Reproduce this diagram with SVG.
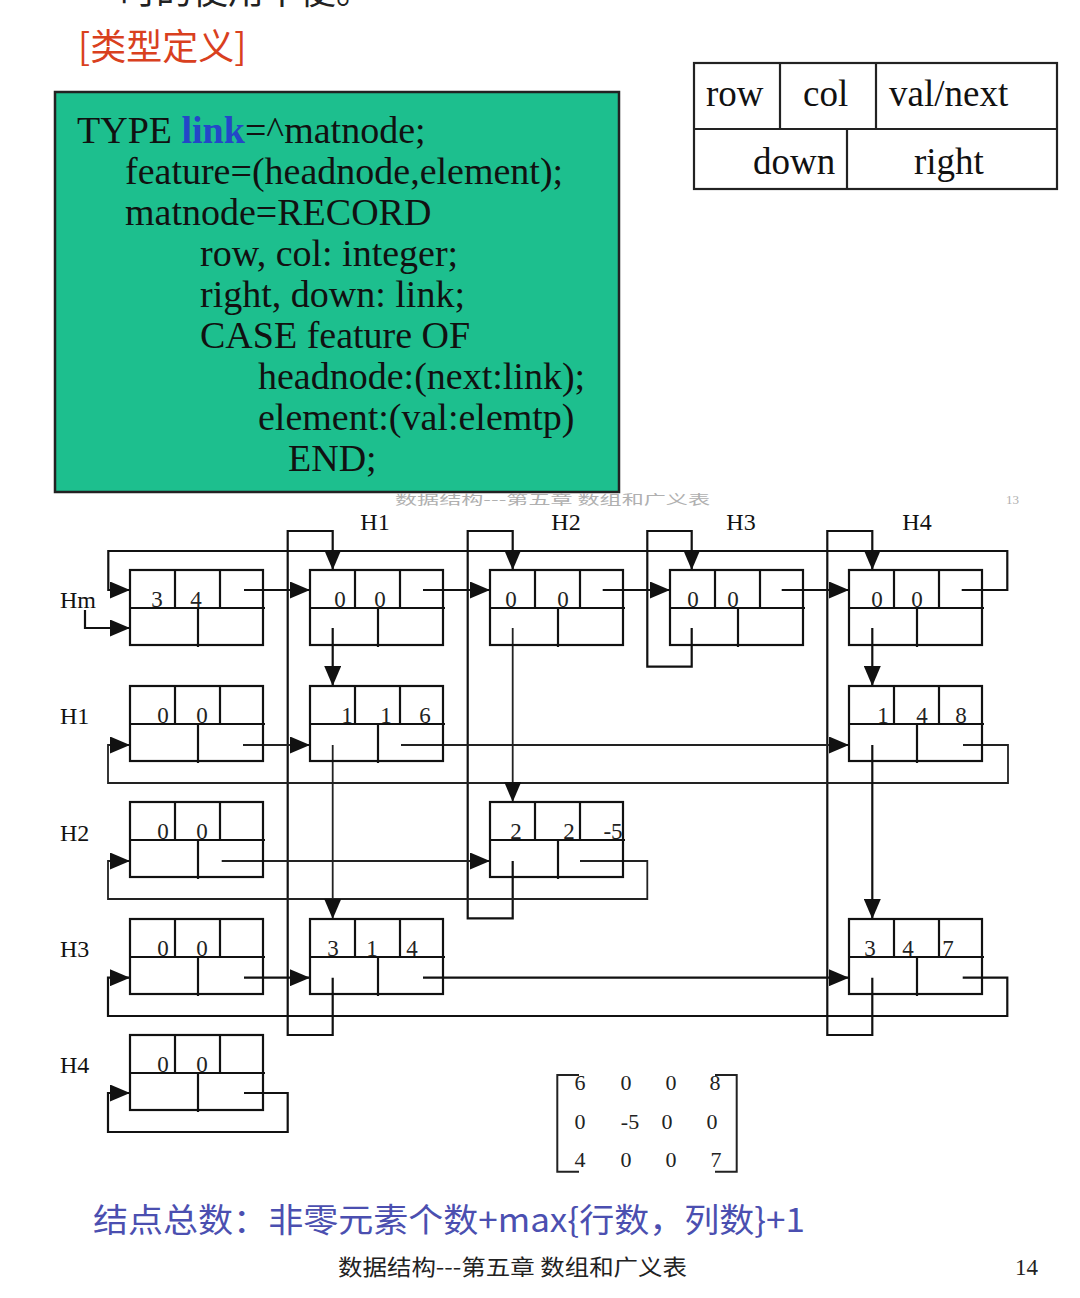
<svg xmlns="http://www.w3.org/2000/svg" xmlns:xlink="http://www.w3.org/1999/xlink" width="1080" height="1298" viewBox="0 0 1080 1298">
<style>
.bg{fill:#ffffff}
.serif{font-family:"Liberation Serif","Times New Roman",serif}
.cjk{font-family:"Noto Sans CJK SC","Noto Sans",sans-serif}
.code{font-family:"Liberation Serif","Times New Roman",serif;font-size:38px;fill:#111}
.tbl{font-family:"Liberation Serif","Times New Roman",serif;font-size:37px;fill:#111}
.lab{font-family:"Liberation Serif","Times New Roman",serif;font-size:24px;fill:#111}
.dig{font-family:"Liberation Serif","Times New Roman",serif;font-size:23px;fill:#222;text-anchor:middle}
.mx{font-family:"Liberation Serif","Times New Roman",serif;font-size:22px;fill:#222;text-anchor:middle}
.ns{fill:none;stroke:#111;stroke-width:2.2}
.ln{fill:none;stroke:#111;stroke-width:2.2}
.lt{fill:none;stroke:#222;stroke-width:1.8}
</style>
<defs>
<marker id="ah" markerUnits="userSpaceOnUse" markerWidth="20" markerHeight="17" refX="20" refY="8.5" orient="auto" viewBox="0 0 20 17">
<path d="M0,0 L20,8.5 L0,17 Z" fill="#111"/>
</marker>
<g id="nd">
<rect x="0" y="0" width="133" height="75"/>
<line x1="0" y1="38" x2="135" y2="38"/>
<line x1="45" y1="0" x2="45" y2="38"/>
<line x1="90" y1="0" x2="90" y2="38"/>
<line x1="68" y1="38" x2="68" y2="77"/>
</g>
</defs>
<rect class="bg" x="0" y="0" width="1080" height="1298"/>

<!-- header texts -->
<g id="header">
<text class="cjk" x="120" y="4" font-size="36" fill="#222">时的使用不便。</text>
<text class="cjk" x="78" y="60" font-size="36" fill="#D9401E">[类型定义]</text>
</g>

<!-- type definition box -->
<g id="codebox">
<rect x="55" y="92" width="564" height="400" fill="#1DBF8E" stroke="#222" stroke-width="2.5"/>
<text class="code" x="77" y="143">TYPE <tspan font-weight="bold" fill="#2446C8">link</tspan>=^matnode;</text>
<text class="code" x="125" y="184">feature=(headnode,element);</text>
<text class="code" x="125" y="225">matnode=RECORD</text>
<text class="code" x="200" y="266">row, col: integer;</text>
<text class="code" x="200" y="307">right, down: link;</text>
<text class="code" x="200" y="348">CASE feature OF</text>
<text class="code" x="258" y="389">headnode:(next:link);</text>
<text class="code" x="258" y="430">element:(val:elemtp)</text>
<text class="code" x="288" y="471">END;</text>
</g>

<!-- node layout table -->
<g id="layout">
<rect x="694" y="63" width="363" height="126" fill="none" stroke="#222" stroke-width="2.2"/>
<line x1="694" y1="129" x2="1057" y2="129" stroke="#222" stroke-width="2.2"/>
<line x1="780" y1="63" x2="780" y2="129" stroke="#222" stroke-width="2.2"/>
<line x1="876" y1="63" x2="876" y2="129" stroke="#222" stroke-width="2.2"/>
<line x1="847" y1="129" x2="847" y2="189" stroke="#222" stroke-width="2.2"/>
<text class="tbl" x="706" y="106">row</text>
<text class="tbl" x="803" y="106">col</text>
<text class="tbl" x="889" y="106">val/next</text>
<text class="tbl" x="753" y="174">down</text>
<text class="tbl" x="914" y="174">right</text>
</g>

<!-- faint bleed-through footer of previous slide -->
<g id="faint" fill="#b0b0b0">
<text class="cjk" x="395" y="504" font-size="13" textLength="315" lengthAdjust="spacingAndGlyphs">数据结构---第五章 数组和广义表</text>
<text class="serif" x="1006" y="504" font-size="13">13</text>
</g>

<!-- labels -->
<g id="labels">
<text class="lab" x="375" y="530" text-anchor="middle">H1</text>
<text class="lab" x="566" y="530" text-anchor="middle">H2</text>
<text class="lab" x="741" y="530" text-anchor="middle">H3</text>
<text class="lab" x="917" y="530" text-anchor="middle">H4</text>
<text class="lab" x="60" y="608">Hm</text>
<text class="lab" x="60" y="724">H1</text>
<text class="lab" x="60" y="841">H2</text>
<text class="lab" x="60" y="957">H3</text>
<text class="lab" x="60" y="1073">H4</text>
</g>

<!-- connectors -->
<g id="connectors">
<!-- column loops -->
<path class="ln" d="M332.7,977.7 V1035 H287.7 V531 H332.7 V570" marker-end="url(#ah)"/>
<path class="ln" d="M512.7,861 V918.3 H467.7 V531 H512.7 V570" marker-end="url(#ah)"/>
<path class="ln" d="M691.7,628 V666.7 H647.3 V531 H691.7 V570" marker-end="url(#ah)"/>
<path class="ln" d="M872.3,977.7 V1035 H827.3 V531 H872.3 V570" marker-end="url(#ah)"/>
<!-- row loops -->
<path class="ln" d="M961.7,590 H1007.3 V551 H108.3 V590 H130" marker-end="url(#ah)"/>
<path class="ln" d="M85,610 V628 H130" marker-end="url(#ah)"/>
<path class="lt" d="M963,745 H1008 V783 H108 V745 H130" marker-end="url(#ah)"/>
<path class="lt" d="M580,861 H647.3 V899 H108 V861 H130" marker-end="url(#ah)"/>
<path class="ln" d="M962.7,977.7 H1007.3 V1016 H108 V977.7 H130" marker-end="url(#ah)"/>
<path class="ln" d="M244,1093 H287.7 V1132 H108 V1093 H130" marker-end="url(#ah)"/>
<!-- head-node chain -->
<path class="ln" d="M244,590 H310" marker-end="url(#ah)"/>
<path class="ln" d="M423,590 H490" marker-end="url(#ah)"/>
<path class="ln" d="M602.7,590 H670" marker-end="url(#ah)"/>
<path class="ln" d="M781.7,590 H849" marker-end="url(#ah)"/>
<!-- row pointers -->
<path class="lt" d="M243,745 H310" marker-end="url(#ah)"/>
<path class="lt" d="M401,745 H849" marker-end="url(#ah)"/>
<path class="lt" d="M221.7,861 H490" marker-end="url(#ah)"/>
<path class="ln" d="M244,977.7 H310" marker-end="url(#ah)"/>
<path class="ln" d="M423,977.7 H849" marker-end="url(#ah)"/>
<!-- column pointers -->
<path class="ln" d="M332.7,628 V686" marker-end="url(#ah)"/>
<path class="lt" d="M332.7,745 V919" marker-end="url(#ah)"/>
<path class="lt" d="M512.7,628 V802" marker-end="url(#ah)"/>
<path class="ln" d="M872.3,628 V686" marker-end="url(#ah)"/>
<path class="ln" d="M872.3,745 V919" marker-end="url(#ah)"/>
</g>

<!-- nodes -->
<g id="node-hm"><use xlink:href="#nd" href="#nd" class="ns" x="130" y="570"/><text class="dig" x="157" y="607">3</text><text class="dig" x="196" y="607">4</text></g>
<g id="node-c1"><use xlink:href="#nd" href="#nd" class="ns" x="310" y="570"/><text class="dig" x="340" y="607">0</text><text class="dig" x="380" y="607">0</text></g>
<g id="node-c2"><use xlink:href="#nd" href="#nd" class="ns" x="490" y="570"/><text class="dig" x="511" y="607">0</text><text class="dig" x="563" y="607">0</text></g>
<g id="node-c3"><use xlink:href="#nd" href="#nd" class="ns" x="670" y="570"/><text class="dig" x="693" y="607">0</text><text class="dig" x="733" y="607">0</text></g>
<g id="node-c4"><use xlink:href="#nd" href="#nd" class="ns" x="849" y="570"/><text class="dig" x="877" y="607">0</text><text class="dig" x="917" y="607">0</text></g>

<g id="node-r1"><use xlink:href="#nd" href="#nd" class="ns" x="130" y="686"/><text class="dig" x="163" y="723">0</text><text class="dig" x="202" y="723">0</text></g>
<g id="node-e116"><use xlink:href="#nd" href="#nd" class="ns" x="310" y="686"/><text class="dig" x="347" y="723">1</text><text class="dig" x="386" y="723">1</text><text class="dig" x="425" y="723">6</text></g>
<g id="node-e148"><use xlink:href="#nd" href="#nd" class="ns" x="849" y="686"/><text class="dig" x="883" y="723">1</text><text class="dig" x="922" y="723">4</text><text class="dig" x="961" y="723">8</text></g>

<g id="node-r2"><use xlink:href="#nd" href="#nd" class="ns" x="130" y="802"/><text class="dig" x="163" y="839">0</text><text class="dig" x="202" y="839">0</text></g>
<g id="node-e22"><use xlink:href="#nd" href="#nd" class="ns" x="490" y="802"/><text class="dig" x="516" y="839">2</text><text class="dig" x="569" y="839">2</text><text class="dig" x="613" y="839">-5</text></g>

<g id="node-r3"><use xlink:href="#nd" href="#nd" class="ns" x="130" y="919"/><text class="dig" x="163" y="956">0</text><text class="dig" x="202" y="956">0</text></g>
<g id="node-e314"><use xlink:href="#nd" href="#nd" class="ns" x="310" y="919"/><text class="dig" x="333" y="956">3</text><text class="dig" x="372" y="956">1</text><text class="dig" x="412" y="956">4</text></g>
<g id="node-e347"><use xlink:href="#nd" href="#nd" class="ns" x="849" y="919"/><text class="dig" x="870" y="956">3</text><text class="dig" x="908" y="956">4</text><text class="dig" x="948" y="956">7</text></g>

<g id="node-r4"><use xlink:href="#nd" href="#nd" class="ns" x="130" y="1035"/><text class="dig" x="163" y="1072">0</text><text class="dig" x="202" y="1072">0</text></g>

<!-- matrix -->
<g id="matrix">
<path d="M579,1075 H557.3 V1171.7 H579" fill="none" stroke="#222" stroke-width="2"/>
<path d="M715,1075 H736.7 V1171.7 H715" fill="none" stroke="#222" stroke-width="2"/>
<text class="mx" x="580" y="1090">6</text><text class="mx" x="626" y="1090">0</text><text class="mx" x="671" y="1090">0</text><text class="mx" x="715" y="1090">8</text>
<text class="mx" x="580" y="1129">0</text><text class="mx" x="630" y="1129">-5</text><text class="mx" x="667" y="1129">0</text><text class="mx" x="712" y="1129">0</text>
<text class="mx" x="580" y="1167">4</text><text class="mx" x="626" y="1167">0</text><text class="mx" x="671" y="1167">0</text><text class="mx" x="716" y="1167">7</text>
</g>

<!-- bottom texts -->
<g id="footer">
<text class="cjk" x="93" y="1232" font-size="33" fill="#4B4FB0" textLength="712" lengthAdjust="spacingAndGlyphs">结点总数：非零元素个数+max{行数，列数}+1</text>
<text class="cjk" x="338" y="1275" font-size="22" fill="#222" textLength="349" lengthAdjust="spacingAndGlyphs">数据结构---第五章 数组和广义表</text>
<text class="serif" x="1015" y="1275" font-size="23" fill="#222">14</text>
</g>
</svg>
